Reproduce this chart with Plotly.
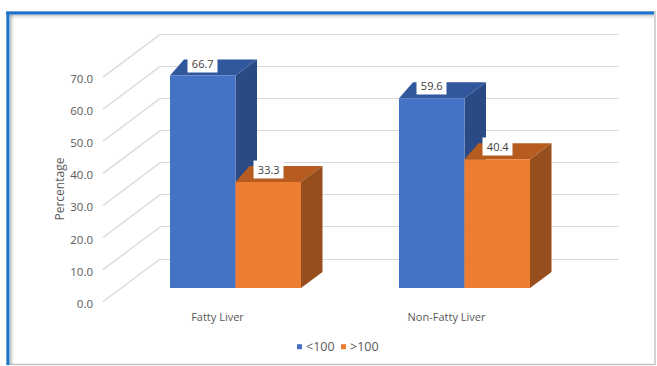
import plotly.graph_objects as go

# ---- data -------------------------------------------------------------
categories = ["Fatty Liver", "Non-Fatty Liver"]
series_names = ["<100", ">100"]
below_100 = [66.7, 59.6]
above_100 = [33.3, 40.4]
y_tick_values = [0, 10, 20, 30, 40, 50, 60, 70]
y_tick_labels = ["0.0", "10.0", "20.0", "30.0", "40.0", "50.0", "60.0", "70.0"]

# ---- page geometry (pixels) --------------------------------------------
W, H = 657, 366
PLOT_L, PLOT_R, PLOT_T, PLOT_B = 160, 619, 20, 306

CAT_PX, CAT0_PX = 229.0, 235.5          # category spacing / first category centre
BAR_ZERO_PX, BAR_SCALE = 288.0, 3.185   # plane of the bar fronts
WALL_ZERO_PX, WALL_SCALE = 259.0, 3.208 # back wall
FRONT_ZERO_PX = 301.7                   # front edge of the side wall (tick labels)
FRONT_X, BACK_X = 103, 160              # side wall, front and back x

DEPTH_R_PX, DEPTH_L_PX, DEPTH_UP_PX = 21.5, 14.0, 16.0

GROUP_WIDTH = 131.0 / CAT_PX
BAR_W = GROUP_WIDTH / 2

# legend row
LEGEND_Y = 346.7
LEGEND_KEY_X = [297, 341]
LEGEND_KEY = 5

BLUE, BLUE_TOP, BLUE_SIDE = "#4472C4", "#31579C", "#2A4A85"
ORANGE, ORANGE_TOP, ORANGE_SIDE = "#ED7D31", "#B65C20", "#974E1D"
GRID = "#D9D9D9"
TEXT = "#595959"
FONT = "Open Sans"


def fx(px):
    return px / W


def fy(py):
    return 1 - py / H


def vrange(zero_px, scale):
    return [(zero_px - PLOT_B) / scale, (zero_px - PLOT_T) / scale]


x_range = [(PLOT_L - CAT0_PX) / CAT_PX, (PLOT_R - CAT0_PX) / CAT_PX]
DXR = DEPTH_R_PX / CAT_PX
DXL = DEPTH_L_PX / CAT_PX
DY = DEPTH_UP_PX / BAR_SCALE

series = [
    (series_names[0], below_100, BLUE, BLUE_TOP, BLUE_SIDE, -BAR_W),
    (series_names[1], above_100, ORANGE, ORANGE_TOP, ORANGE_SIDE, 0.0),
]

fig = go.Figure()

# front faces of the columns
for name, vals, front, _, _, _ in series:
    fig.add_trace(go.Bar(
        x=categories, y=vals, name=name, marker=dict(color=front, line=dict(width=0)),
        showlegend=False, hoverinfo="skip",
    ))

# the wall axes need a trace to be drawn
fig.add_trace(go.Scatter(x=[None], y=[None], yaxis="y2", showlegend=False, hoverinfo="skip"))
fig.add_trace(go.Scatter(x=[None], y=[None], yaxis="y3", showlegend=False, hoverinfo="skip"))

shapes = []

# chart frame
shapes.append(dict(type="rect", xref="paper", yref="paper",
                   x0=fx(7), x1=fx(655), y0=fy(12), y1=fy(364.5),
                   line=dict(color="#C4C4C4", width=1.5), fillcolor="white", layer="below"))
for i, alpha in enumerate([0.35, 0.22, 0.12, 0.06]):
    off = 10.5 + i
    shapes.append(dict(type="line", xref="paper", yref="paper",
                       x0=fx(off), x1=fx(off), y0=fy(14), y1=fy(364),
                       line=dict(color=f"rgba(90,90,90,{alpha})", width=1), layer="below"))
    off = 15 + i
    shapes.append(dict(type="line", xref="paper", yref="paper",
                       x0=fx(10), x1=fx(654), y0=fy(off), y1=fy(off),
                       line=dict(color=f"rgba(90,90,90,{alpha})", width=1), layer="below"))
shapes.append(dict(type="line", xref="paper", yref="paper",
                   x0=fx(6), x1=fx(654), y0=fy(13), y1=fy(13),
                   line=dict(color="#1A73CC", width=3), layer="below"))
shapes.append(dict(type="line", xref="paper", yref="paper",
                   x0=fx(8), x1=fx(8), y0=fy(12), y1=fy(365),
                   line=dict(color="#1A73CC", width=3), layer="below"))

# side wall gridlines running from the front edge to the back wall
for v in y_tick_values:
    shapes.append(dict(type="line", xref="paper", yref="y2",
                       ysizemode="pixel", yanchor=v,
                       x0=fx(FRONT_X), x1=fx(BACK_X),
                       y0=-(FRONT_ZERO_PX - WALL_ZERO_PX), y1=0,
                       line=dict(color=GRID, width=1.3), layer="between"))

# top and side faces of the columns
for _, vals, _, top, side, offset in series:
    for j, v in enumerate(vals):
        xl = j + offset
        xr = xl + BAR_W
        shapes.append(dict(
            type="path", xref="x", yref="y", layer="between",
            path=(f"M{xl},{v} L{xr},{v} L{xr + DXR},{v + DY} "
                  f"L{xl + DXL},{v + DY} Z"),
            fillcolor=top, line=dict(width=0)))
        shapes.append(dict(
            type="path", xref="x", yref="y", layer="between",
            path=(f"M{xr},0 L{xr},{v} L{xr + DXR},{v + DY} "
                  f"L{xr + DXR},{DY} Z"),
            fillcolor=side, line=dict(width=0)))

# value labels on white boxes
annotations = []
for _, vals, _, _, _, offset in series:
    for j, v in enumerate(vals):
        annotations.append(dict(
            x=j + offset + BAR_W / 2, y=v, xref="x", yref="y", yshift=12.5,
            text=f"\u00a0{v:.1f}\u00a0", showarrow=False, bgcolor="white", borderpad=1,
            font=dict(family=FONT, size=11, color="#404040")))

annotations.append(dict(
    x=fx(59), y=fy(189.5), xref="paper", yref="paper", text="Percentage",
    xanchor="center", yanchor="middle",
    textangle=-90, showarrow=False, font=dict(family=FONT, size=12, color=TEXT)))

# legend: small colour keys followed by the series names
for (name, _, front, _, _, _), kx in zip(series, LEGEND_KEY_X):
    shapes.append(dict(type="rect", xref="paper", yref="paper",
                       x0=fx(kx), x1=fx(kx + LEGEND_KEY),
                       y0=fy(LEGEND_Y - LEGEND_KEY / 2), y1=fy(LEGEND_Y + LEGEND_KEY / 2),
                       fillcolor=front, line=dict(width=0), layer="above"))
    annotations.append(dict(
        x=fx(kx + LEGEND_KEY + 1.5), y=fy(LEGEND_Y), xref="paper", yref="paper",
        xanchor="left", yanchor="middle", text=name, showarrow=False,
        font=dict(family=FONT, size=12.5, color=TEXT)))

fig.update_layout(
    template="none",
    width=W, height=H,
    margin=dict(l=0, r=0, t=0, b=0, pad=0),
    paper_bgcolor="white", plot_bgcolor="rgba(0,0,0,0)",
    font=dict(family=FONT, size=11, color=TEXT),
    barmode="group", bargap=1 - GROUP_WIDTH, bargroupgap=0,
    showlegend=False,
    shapes=shapes, annotations=annotations,
    xaxis=dict(
        domain=[fx(PLOT_L), fx(PLOT_R)], type="category", range=x_range,
        showgrid=False, zeroline=False, showline=False, ticks="",
        ticklabelshift=-18, ticklabelstandoff=3, automargin=False,
        tickfont=dict(family=FONT, size=11, color=TEXT)),
    yaxis=dict(
        domain=[fy(PLOT_B), fy(PLOT_T)], range=vrange(BAR_ZERO_PX, BAR_SCALE),
        visible=False, automargin=False),
    yaxis2=dict(
        overlaying="y", range=vrange(WALL_ZERO_PX, WALL_SCALE),
        tickvals=y_tick_values, showticklabels=False, ticks="",
        showgrid=True, gridcolor=GRID, gridwidth=1.3,
        zeroline=False, showline=False, automargin=False),
    yaxis3=dict(
        overlaying="y", anchor="free", position=fx(93), side="left",
        range=vrange(FRONT_ZERO_PX, WALL_SCALE),
        tickvals=y_tick_values, ticktext=y_tick_labels, ticks="",
        showgrid=False, zeroline=False, showline=False, automargin=False,
        ticklabelstandoff=0, ticklabelshift=2,
        tickfont=dict(family=FONT, size=11.5, color=TEXT)),
    hovermode=False,
)

fig.write_html("out.html")
